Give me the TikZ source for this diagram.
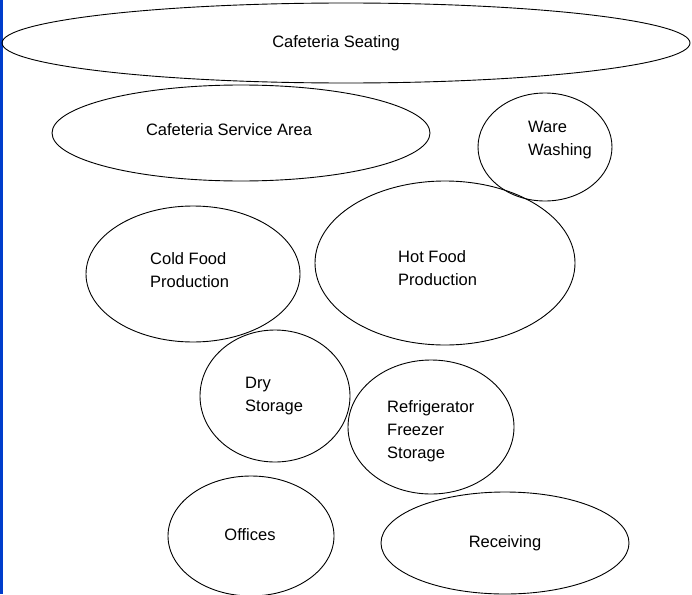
\documentclass[tikz,border=0pt]{standalone}
\usepackage{fontspec}
\setmainfont{Liberation Sans}
\usetikzlibrary{shapes.geometric}
\begin{document}
\begin{tikzpicture}[x=1pt,y=-1pt,
  area/.style={draw=black,line width=0.9pt,ellipse,inner sep=0pt},
  lbl/.style={font=\fontsize{16.5}{23}\selectfont,align=left,inner sep=0pt}]
\useasboundingbox (0,0) rectangle (692,594);
\clip (0,0) rectangle (692,594);
\fill[white] (0,0) rectangle (692,594);
\fill[blue!70!cyan!80!black] (0,0) rectangle (3,594);
\node[area,minimum width=688,minimum height=80] (seat) at (346,43) {};
\node[area,minimum width=378,minimum height=96] (serv) at (241,133) {};
\node[area,minimum width=134,minimum height=108] (ware) at (545,147) {};
\node[area,minimum width=214,minimum height=136] (cold) at (193,274) {};
\node[area,minimum width=260,minimum height=164] (hot) at (445,263) {};
\node[area,minimum width=150,minimum height=132] (dry) at (275,396) {};
\node[area,minimum width=166,minimum height=134] (fridge) at (431,427) {};
\node[area,minimum width=166,minimum height=120] (off) at (251,536) {};
\node[area,minimum width=248,minimum height=102] (recv) at (505,543) {};
\node[lbl] (tseat) at (336,43) {Cafeteria Seating};
\node[lbl] (tserv) at (229,130) {Cafeteria Service Area};
\node[lbl,anchor=west] (tware) at (528,140) {Ware\\Washing};
\node[lbl,anchor=west] (tcold) at (150,270) {Cold Food\\Production};
\node[lbl,anchor=west] (thot) at (398,268) {Hot Food\\Production};
\node[lbl,anchor=west] (tdry) at (245,396) {Dry\\Storage};
\node[lbl,anchor=west] (tfr) at (387,431) {Refrigerator\\Freezer\\Storage};
\node[lbl] (toff) at (250,535) {Offices};
\node[lbl] (trecv) at (505,543) {Receiving};
\end{tikzpicture}
\end{document}
